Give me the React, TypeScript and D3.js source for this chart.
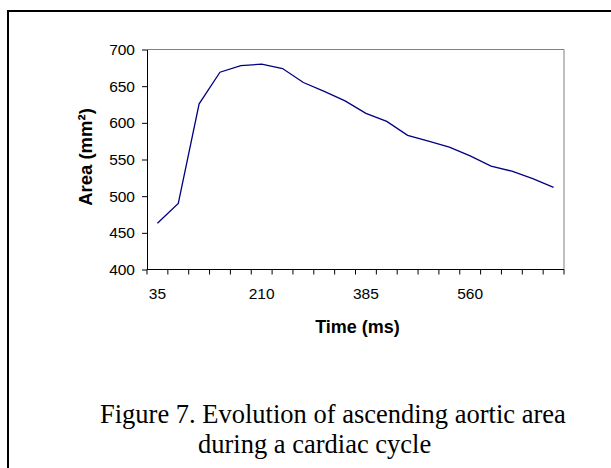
import React, { useEffect, useRef } from 'react'
import * as d3 from 'd3'

// time points (ms) over one cardiac cycle
const times = [35, 70, 105, 140, 175, 210, 245, 280, 315, 350, 385, 420, 455, 490, 525, 560, 595, 630, 665, 700]
// ascending aortic area (mm²)
const area = [463, 490, 626, 669, 678, 680, 674, 655, 643, 630, 613, 602, 583, 575, 567, 555, 541, 534, 524, 512]
const labelledTimes = [35, 210, 385, 560]
const areaTicks = [400, 450, 500, 550, 600, 650, 700]
const captionLines = ['Figure 7. Evolution of ascending aortic area', 'during a cardiac cycle']

const W = 611
const H = 468
const plot = { left: 147, right: 564, top: 49.5, bottom: 269.5 }
const sans = "'Liberation Sans', Arial, sans-serif"
const serif = "'Liberation Serif', 'Times New Roman', serif"

export default function App () {
  const ref = useRef<SVGSVGElement>(null)

  useEffect(() => {
    const svg = d3.select(ref.current)
    svg.selectAll('*').remove()

    // outer figure frame (runs off the right/bottom of the crop)
    svg.append('rect')
      .attr('x', 8).attr('y', 11)
      .attr('width', 700).attr('height', 600)
      .attr('fill', 'white')
      .attr('stroke', 'black')
      .attr('stroke-width', 2)

    const x = d3.scaleBand<number>()
      .domain(times)
      .range([plot.left, plot.right])
      .padding(0)

    const y = d3.scaleLinear()
      .domain([400, 700])
      .range([plot.bottom, plot.top])

    // plot area border (grey top/right)
    svg.append('path')
      .attr('d', `M${plot.left},${plot.top}H${plot.right}V${plot.bottom}`)
      .attr('fill', 'none')
      .attr('stroke', '#808080')
      .attr('stroke-width', 1)

    // y axis
    const yAxis = svg.append('g')
      .attr('transform', `translate(${plot.left},0)`)
      .call(d3.axisLeft(y).tickValues(areaTicks).tickSize(5).tickSizeOuter(0).tickPadding(7))
    yAxis.selectAll('text')
      .attr('font-family', sans)
      .attr('font-size', 15.5)
      .attr('fill', 'black')
    yAxis.selectAll('line, path').attr('stroke', 'black')

    // x axis: Excel-style category axis, ticks between categories
    const xAxis = svg.append('g')
    xAxis.append('line')
      .attr('x1', plot.left).attr('x2', plot.right)
      .attr('y1', plot.bottom).attr('y2', plot.bottom)
      .attr('stroke', 'black')
    const edges = times.map(t => x(t) as number).concat([plot.right])
    xAxis.selectAll('line.tick')
      .data(edges)
      .enter()
      .append('line')
        .attr('class', 'tick')
        .attr('x1', d => d).attr('x2', d => d)
        .attr('y1', plot.bottom).attr('y2', plot.bottom + 5)
        .attr('stroke', 'black')
    xAxis.selectAll('text')
      .data(labelledTimes)
      .enter()
      .append('text')
        .attr('x', d => (x(d) as number) + x.bandwidth() / 2)
        .attr('y', 299)
        .attr('text-anchor', 'middle')
        .attr('font-family', sans)
        .attr('font-size', 15.5)
        .text(d => d)

    // axis titles
    svg.append('text')
      .attr('x', (plot.left + plot.right) / 2 + 2)
      .attr('y', 333)
      .attr('text-anchor', 'middle')
      .attr('font-family', sans)
      .attr('font-weight', 'bold')
      .attr('font-size', 18)
      .text('Time (ms)')
    svg.append('text')
      .attr('transform', 'translate(92,157) rotate(-90)')
      .attr('text-anchor', 'middle')
      .attr('font-family', sans)
      .attr('font-weight', 'bold')
      .attr('font-size', 18.5)
      .text('Area (mm²)')

    // data line
    const line = d3.line<number>()
      .x((d, i) => (x(times[i]) as number) + x.bandwidth() / 2)
      .y(d => y(d))
    svg.append('path')
      .datum(area)
      .attr('d', line)
      .attr('fill', 'none')
      .attr('stroke', '#000080')
      .attr('stroke-width', 1.3)

    // caption
    svg.selectAll('text.caption')
      .data(captionLines)
      .enter()
      .append('text')
        .attr('class', 'caption')
        .attr('x', (d, i) => i === 0 ? 100 : 198)
        .attr('y', (d, i) => 423 + i * 30)
        .attr('font-family', serif)
        .attr('font-size', 26.5)
        .text(d => d)
  }, [])

  return (
    <svg
      ref={ref}
      width={W}
      height={H}
      style={{ position: 'absolute', left: 0, top: 0, background: 'white' }}
    />
  )
}
